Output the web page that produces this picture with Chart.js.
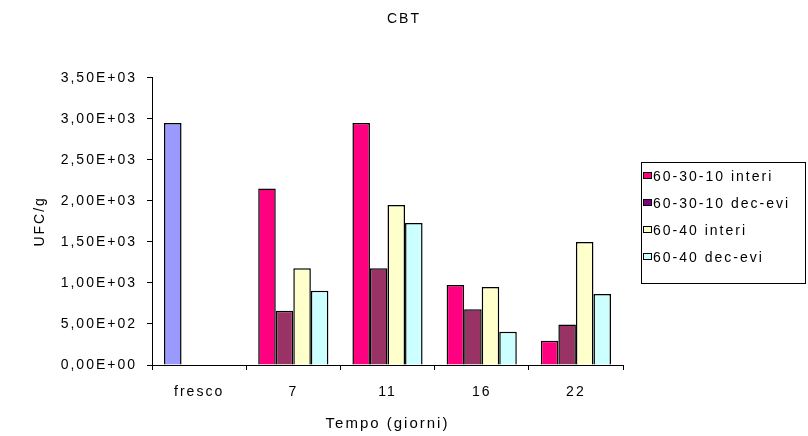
<!DOCTYPE html>
<html>
<head>
<meta charset="utf-8">
<script src="https://cdn.jsdelivr.net/npm/chart.js@4/dist/chart.umd.min.js"></script>
<style>
  html, body { margin: 0; padding: 0; background: #fff; }
  #wrap { width: 808px; height: 436px; position: relative; }
</style>
</head>
<body>
<div id="wrap"><canvas id="cbtChart"></canvas></div>
<script>
// dati
const giorni = ['fresco', '7', '11', '16', '22'];
const serieNomi = ['60-30-10 interi', '60-30-10 dec-evi', '60-40 interi', '60-40 dec-evi'];
const interi603010 = [2950, 2150, 2950, 975, 295];
const decevi603010 = [null, 660, 1180, 680, 495];
const interi6040 = [null, 1180, 1950, 950, 1500];
const decevi6040 = [null, 905, 1730, 405, 865];
const yTicks = [0, 500, 1000, 1500, 2000, 2500, 3000, 3500];

const colBarre = ['#ff0080', '#993366', '#ffffcc', '#ccffff'];
const colLegenda = ['#ff0080', '#800080', '#ffffcc', '#ccffff'];
const FONT = 'Arial, "Liberation Sans", sans-serif';

// formato tipo Excel: 3,50E+03
function sci(v) {
    if (v === 0) return '0,00E+00';
    const e = Math.floor(Math.log10(v));
    const m = v / Math.pow(10, e);
    return m.toFixed(2).replace('.', ',') + 'E+' + String(e).padStart(2, '0');
}

// spaziatura lettere come nel grafico originale
const spacing = {
    id: 'spacing',
    beforeDraw(chart) { chart.ctx.letterSpacing = '2px'; }
};

// legenda con riquadro, disegnata a mano
const legendaBox = {
    id: 'legendaBox',
    afterDraw(chart) {
        const ctx = chart.ctx;
        ctx.save();
        ctx.letterSpacing = '2px';
        ctx.strokeStyle = '#000';
        ctx.lineWidth = 1;
        ctx.strokeRect(641.5, 162.5, 164, 121);
        ctx.font = '14px ' + FONT;
        ctx.textBaseline = 'middle';
        ctx.fillStyle = '#000';
        const ys = [176, 203, 230, 257];
        serieNomi.forEach((n, i) => {
            ctx.fillStyle = colLegenda[i];
            ctx.fillRect(643.5, ys[i] - 3.5, 8, 6);
            ctx.strokeRect(643.5, ys[i] - 3.5, 8, 6);
            ctx.fillStyle = '#000';
            ctx.fillText(n, 653, ys[i] + 1);
        });
        ctx.restore();
    }
};

const ctx = document.getElementById('cbtChart').getContext('2d');
new Chart(ctx, {
    type: 'bar',
    data: {
        labels: giorni,
        datasets: [
            { label: serieNomi[0], data: interi603010,
              backgroundColor: ['#9999ff', colBarre[0], colBarre[0], colBarre[0], colBarre[0]] },
            { label: serieNomi[1], data: decevi603010, backgroundColor: colBarre[1] },
            { label: serieNomi[2], data: interi6040, backgroundColor: colBarre[2] },
            { label: serieNomi[3], data: decevi6040, backgroundColor: colBarre[3] }
        ].map(d => Object.assign(d, {
            borderColor: '#000', borderWidth: 1.5,
            categoryPercentage: 0.745, barPercentage: 1
        }))
    },
    options: {
        responsive: true,
        maintainAspectRatio: false,
        animation: false,
        layout: { padding: 0 },
        plugins: {
            legend: { display: false },
            tooltip: { enabled: false },
            title: {
                display: true, text: 'CBT', color: '#000',
                font: { family: FONT, size: 14, weight: 'normal' },
                padding: { top: 11, bottom: 50 }
            }
        },
        scales: {
            x: {
                afterFit: s => { s.height = 71; },
                grid: { drawOnChartArea: false, color: '#000', tickLength: 5, offset: true },
                border: { color: '#000', width: 1 },
                ticks: { color: '#000', padding: 14, font: { family: FONT, size: 14 } },
                title: {
                    display: true, text: 'Tempo (giorni)', color: '#000',
                    font: { family: FONT, size: 15 }, padding: { top: 0, bottom: 3 }
                }
            },
            y: {
                min: 0, max: 3500,
                afterFit: s => { s.width = 152; },
                afterBuildTicks: s => { s.ticks = yTicks.map(v => ({ value: v })); },
                grid: { drawOnChartArea: false, color: '#000', tickLength: 5 },
                border: { color: '#000', width: 1 },
                ticks: { color: '#000', padding: 10, font: { family: FONT, size: 14 },
                         callback: v => sci(v) },
                title: {
                    display: true, text: 'UFC/g', color: '#000',
                    font: { family: FONT, size: 14 }, padding: { top: 32, bottom: 0 }
                }
            },
            // spazio vuoto a destra per la legenda
            spazio: {
                position: 'right', min: 0, max: 1,
                afterFit: s => { s.width = 185; },
                grid: { display: false }, border: { display: false },
                ticks: { display: false }
            }
        }
    },
    plugins: [spacing, legendaBox]
});
</script>
</body>
</html>
